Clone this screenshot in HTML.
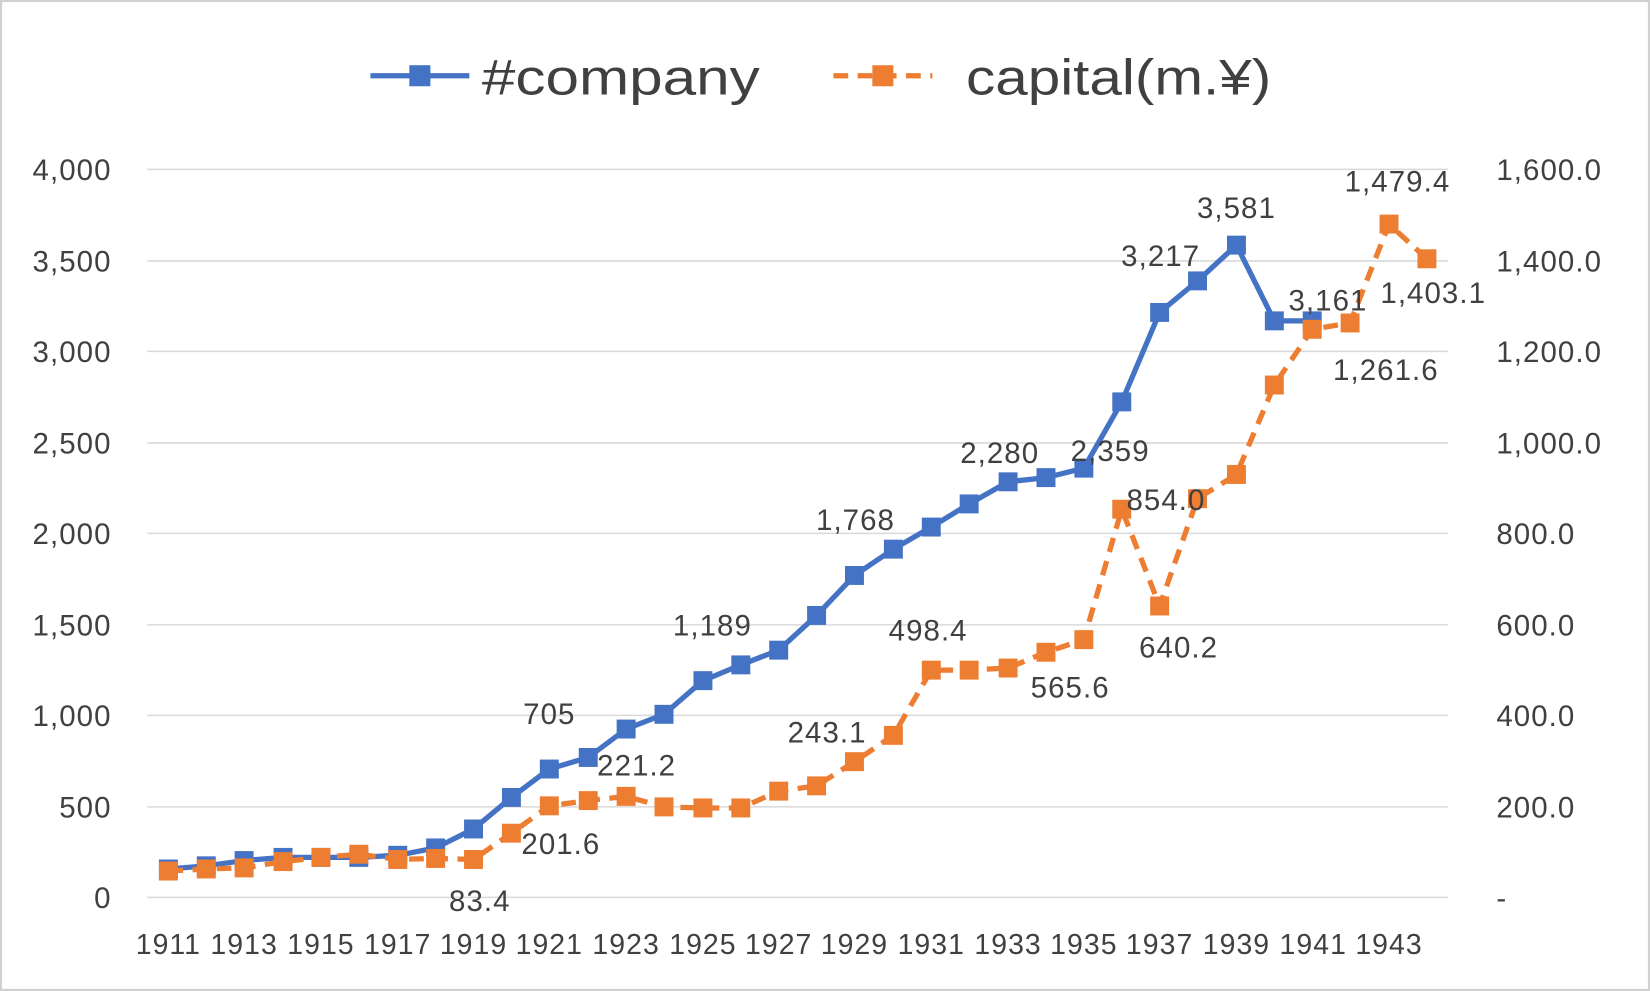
<!DOCTYPE html>
<html><head><meta charset="utf-8"><style>
html,body{margin:0;padding:0;background:#fff}
svg{display:block}
text{font-family:"Liberation Sans",sans-serif;fill:#404040}
</style></head><body>
<svg width="1650" height="991" viewBox="0 0 1568 942" preserveAspectRatio="none">
<rect x="1" y="1" width="1566" height="940" fill="#fff" stroke="#d0d0d0" stroke-width="2"/>
<g stroke="#d9d9d9" stroke-width="1.5">
<line x1="140" x2="1376" y1="161" y2="161"/><line x1="140" x2="1376" y1="248" y2="248"/>
<line x1="140" x2="1376" y1="334" y2="334"/><line x1="140" x2="1376" y1="421" y2="421"/>
<line x1="140" x2="1376" y1="507" y2="507"/><line x1="140" x2="1376" y1="594" y2="594"/>
<line x1="140" x2="1376" y1="680" y2="680"/><line x1="140" x2="1376" y1="767" y2="767"/>
<line x1="140" x2="1376" y1="853" y2="853"/>
</g>
<g font-size="28" text-anchor="end" letter-spacing="1">
<text x="106" y="171">4,000</text><text x="106" y="258">3,500</text><text x="106" y="344">3,000</text>
<text x="106" y="431">2,500</text><text x="106" y="517">2,000</text><text x="106" y="604">1,500</text>
<text x="106" y="690">1,000</text><text x="106" y="777">500</text><text x="106" y="863">0</text>
</g>
<g font-size="28" text-anchor="start" letter-spacing="1">
<text x="1422" y="171">1,600.0</text><text x="1422" y="258">1,400.0</text><text x="1422" y="344">1,200.0</text>
<text x="1422" y="431">1,000.0</text><text x="1422" y="517">800.0</text><text x="1422" y="604">600.0</text>
<text x="1422" y="690">400.0</text><text x="1422" y="777">200.0</text><text x="1422" y="863">-</text>
</g>
<g font-size="27" text-anchor="middle" letter-spacing="1">
<text x="160" y="907">1911</text><text x="232" y="907">1913</text><text x="305" y="907">1915</text>
<text x="378" y="907">1917</text><text x="450" y="907">1919</text><text x="522" y="907">1921</text>
<text x="595" y="907">1923</text><text x="668" y="907">1925</text><text x="740" y="907">1927</text>
<text x="812" y="907">1929</text><text x="885" y="907">1931</text><text x="958" y="907">1933</text>
<text x="1030" y="907">1935</text><text x="1102" y="907">1937</text><text x="1175" y="907">1939</text>
<text x="1248" y="907">1941</text><text x="1320" y="907">1943</text>
</g>
<polyline fill="none" stroke="#4472c4" stroke-width="5" stroke-linejoin="round" points="160,826 196,823 232,818 269,815 305,815 341,815 378,813 414,806 450,788 486,758 522,731 559,720 595,693 631,679 668,647 704,632 740,618 776,585 812,547 849,522 885,501 921,479 958,458 994,454 1030,445 1066,382 1102,297 1138,267 1175,233 1211,305 1247,305"/>
<g fill="#4472c4">
<rect x="151" y="817" width="18" height="18"/><rect x="187" y="814" width="18" height="18"/><rect x="223" y="809" width="18" height="18"/><rect x="260" y="806" width="18" height="18"/><rect x="296" y="806" width="18" height="18"/><rect x="332" y="806" width="18" height="18"/><rect x="369" y="804" width="18" height="18"/><rect x="405" y="797" width="18" height="18"/><rect x="441" y="779" width="18" height="18"/><rect x="477" y="749" width="18" height="18"/><rect x="513" y="722" width="18" height="18"/><rect x="550" y="711" width="18" height="18"/><rect x="586" y="684" width="18" height="18"/><rect x="622" y="670" width="18" height="18"/><rect x="659" y="638" width="18" height="18"/><rect x="695" y="623" width="18" height="18"/><rect x="731" y="609" width="18" height="18"/><rect x="767" y="576" width="18" height="18"/><rect x="803" y="538" width="18" height="18"/><rect x="840" y="513" width="18" height="18"/><rect x="876" y="492" width="18" height="18"/><rect x="912" y="470" width="18" height="18"/><rect x="949" y="449" width="18" height="18"/><rect x="985" y="445" width="18" height="18"/><rect x="1021" y="436" width="18" height="18"/><rect x="1057" y="373" width="18" height="18"/><rect x="1093" y="288" width="18" height="18"/><rect x="1129" y="258" width="18" height="18"/><rect x="1166" y="224" width="18" height="18"/><rect x="1202" y="296" width="18" height="18"/><rect x="1238" y="296" width="18" height="18"/>
</g>
<polyline fill="none" stroke="#ed7d31" stroke-width="5" stroke-dasharray="14,9" stroke-linejoin="round" points="160,828 196,826 232,825 269,819 305,815 341,812 378,817 414,816 450,817 486,792 522,766 559,761 595,757 631,767 668,768 704,768 740,752 776,747 812,724 849,699 885,637 921,637 958,635 994,620 1030,608 1066,484 1102,576 1138,474 1175,451 1211,366 1247,313 1283,307 1320,213 1356,246"/>
<g fill="#ed7d31">
<rect x="151" y="819" width="18" height="18"/><rect x="187" y="817" width="18" height="18"/><rect x="223" y="816" width="18" height="18"/><rect x="260" y="810" width="18" height="18"/><rect x="296" y="806" width="18" height="18"/><rect x="332" y="803" width="18" height="18"/><rect x="369" y="808" width="18" height="18"/><rect x="405" y="807" width="18" height="18"/><rect x="441" y="808" width="18" height="18"/><rect x="477" y="783" width="18" height="18"/><rect x="513" y="757" width="18" height="18"/><rect x="550" y="752" width="18" height="18"/><rect x="586" y="748" width="18" height="18"/><rect x="622" y="758" width="18" height="18"/><rect x="659" y="759" width="18" height="18"/><rect x="695" y="759" width="18" height="18"/><rect x="731" y="743" width="18" height="18"/><rect x="767" y="738" width="18" height="18"/><rect x="803" y="715" width="18" height="18"/><rect x="840" y="690" width="18" height="18"/><rect x="876" y="628" width="18" height="18"/><rect x="912" y="628" width="18" height="18"/><rect x="949" y="626" width="18" height="18"/><rect x="985" y="611" width="18" height="18"/><rect x="1021" y="599" width="18" height="18"/><rect x="1057" y="475" width="18" height="18"/><rect x="1093" y="567" width="18" height="18"/><rect x="1129" y="465" width="18" height="18"/><rect x="1166" y="442" width="18" height="18"/><rect x="1202" y="357" width="18" height="18"/><rect x="1238" y="304" width="18" height="18"/><rect x="1274" y="298" width="18" height="18"/><rect x="1311" y="204" width="18" height="18"/><rect x="1347" y="237" width="18" height="18"/>
</g>
<g font-size="28" text-anchor="middle" style="fill:#262626" letter-spacing="1">
<text x="522" y="688">705</text><text x="677" y="604">1,189</text><text x="813" y="504">1,768</text>
<text x="950" y="440">2,280</text><text x="1055" y="438">2,359</text><text x="1103" y="253">3,217</text>
<text x="1175" y="207">3,581</text><text x="1262" y="295">3,161</text>
<text x="456" y="866">83.4</text><text x="533" y="812">201.6</text><text x="605" y="737">221.2</text>
<text x="786" y="706">243.1</text><text x="882" y="609">498.4</text><text x="1017" y="663">565.6</text>
<text x="1108" y="485">854.0</text><text x="1120" y="625">640.2</text><text x="1317" y="361">1,261.6</text>
<text x="1328" y="182">1,479.4</text><text x="1362" y="288">1,403.1</text>
</g>
<line x1="352" x2="446" y1="72" y2="72" stroke="#4472c4" stroke-width="5"/>
<rect x="389" y="62" width="20" height="20" fill="#4472c4"/>
<text x="458" y="90" font-size="48" textLength="264" lengthAdjust="spacingAndGlyphs" style="fill:#404040">#company</text>
<line x1="792" x2="886" y1="72" y2="72" stroke="#ed7d31" stroke-width="5" stroke-dasharray="14,9"/>
<rect x="829" y="62" width="20" height="20" fill="#ed7d31"/>
<text x="918" y="90" font-size="48" textLength="290" lengthAdjust="spacingAndGlyphs" style="fill:#404040">capital(m.¥)</text>
</svg>
</body></html>
